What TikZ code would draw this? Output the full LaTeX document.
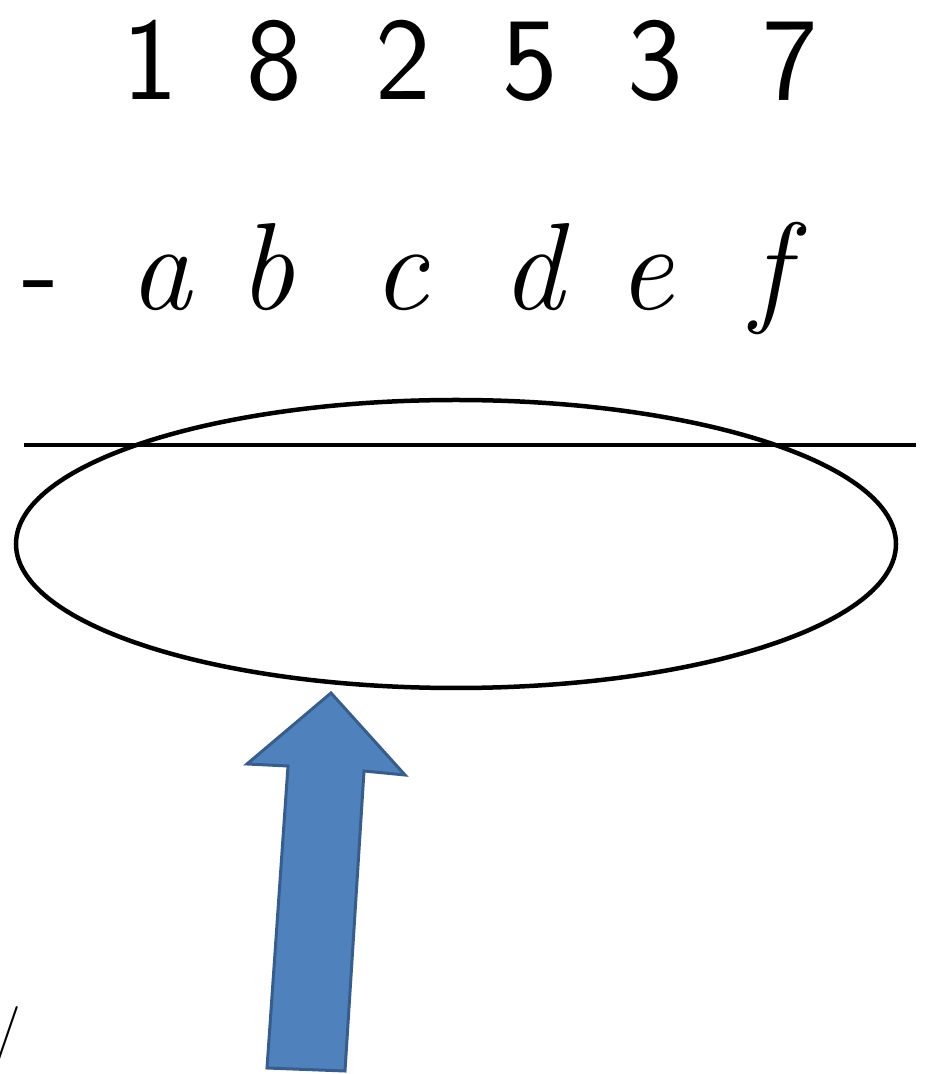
\documentclass[tikz,border=0pt]{standalone}
\begin{document}
\begin{tikzpicture}[x=1pt,y=1pt,
  digit/.style={anchor=base,inner sep=0pt,font=\sffamily\fontsize{118}{118}\selectfont},
  letter/.style={anchor=base,inner sep=0pt,font=\itshape\fontsize{124}{124}\selectfont},
  rule/.style={line width=4.5pt,black},
  blockarrow/.style={fill={rgb,255:red,79;green,129;blue,189},draw={rgb,255:red,56;green,93;blue,138},line width=3pt,line join=miter}]
\useasboundingbox (0,0) rectangle (927,1074);
% top row of digits (baseline y=100px)
\node[digit] (d1) at (150,974) {1};
\node[digit] (d2) at (274,974) {8};
\node[digit] (d3) at (403,974) {2};
\node[digit] (d4) at (530,974) {5};
\node[digit] (d5) at (655,974) {3};
\node[digit] (d6) at (790,974) {7};
% second row of letters (baseline y=310px)
\node[digit] (minus) at (41,764) {-};
\node[letter] (la) at (160,764) {a};
\node[letter] (lb) at (266,764) {b};
\node[letter] (lc) at (400,764) {c};
\node[letter] (ld) at (532,764) {d};
\node[letter] (le) at (645,764) {e};
\node[letter] (lf) at (770,764) {f};
% rule
\coordinate (rl) at (24,629);
\coordinate (rr) at (916,629);
\draw[rule] (rl) -- (rr);
% ellipse
\coordinate (ec) at (456,530);
\draw[rule] (ec) ellipse [x radius=440, y radius=144];
% block arrow
\draw[blockarrow] (331,381) -- (405,299) -- (364,303) -- (345,3) -- (267,6) -- (288,308) -- (247,310) -- cycle;
% partial slash at lower left
\node[inner sep=0pt,font=\fontsize{60}{60}\selectfont] (sl) at (7,37) {/};
\end{tikzpicture}
\end{document}
